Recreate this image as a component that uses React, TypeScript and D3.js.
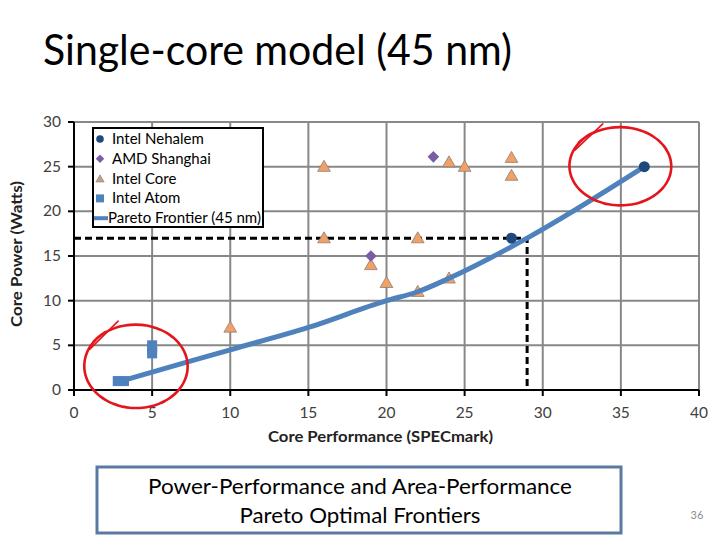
import React from 'react';
import * as d3 from 'd3';

// series values (x = SPECmark, y = Watts)
const nehalem = [
  { x: 28, y: 17 },
  { x: 36.5, y: 25 },
];
const shanghai = [
  { x: 23, y: 26.1 },
  { x: 19, y: 15 },
];
const intelCore = [
  { x: 16, y: 25 },
  { x: 16, y: 17 },
  { x: 24, y: 25.5 },
  { x: 25, y: 25 },
  { x: 28, y: 26 },
  { x: 28, y: 24 },
  { x: 22, y: 17 },
  { x: 19, y: 14 },
  { x: 20, y: 12 },
  { x: 22, y: 11 },
  { x: 24, y: 12.5 },
  { x: 10, y: 7 },
];
const atom = [
  { x: 5, y: 4.1 },
  { x: 5, y: 4.6 },
  { x: 5, y: 5 },
  { x: 2.8, y: 1 },
  { x: 3.2, y: 1 },
];
const pareto = [
  { x: 3, y: 1 },
  { x: 5, y: 2 },
  { x: 10, y: 4.5 },
  { x: 15, y: 7 },
  { x: 20, y: 10 },
  { x: 22, y: 11 },
  { x: 24, y: 12.5 },
  { x: 29, y: 17 },
  { x: 36.5, y: 25 },
];
// dashed guide to the chosen design point
const guide = { x: 29, y: 17 };
// hand-drawn red circles (data units)
const marks = [
  { cx: 4.0, cy: 2.6, rx: 3.4, ry: 4.8 },
  { cx: 35.0, cy: 25.0, rx: 3.35, ry: 4.5 },
];
const xTicks = [0, 5, 10, 15, 20, 25, 30, 35, 40];
const yTicks = [0, 5, 10, 15, 20, 25, 30];
const legendItems = ['Intel Nehalem', 'AMD Shanghai', 'Intel Core', 'Intel Atom', 'Pareto Frontier (45 nm)'];

const FONT = 'Lato, "Open Sans", sans-serif';
const BLUE = '#4f81bd';
const NAVY = '#1f497d';
const PURPLE = '#7a5ea5';
const ORANGE = '#f2a066';

const margin = { left: 74, top: 122, right: 21, bottom: 150 };
const W = 720;
const H = 540;

const App: React.FC = () => {
  const x = d3.scaleLinear().domain([0, 40]).range([margin.left, W - margin.right]);
  const y = d3.scaleLinear().domain([0, 30]).range([H - margin.bottom, margin.top]);

  const line = d3.line<{ x: number; y: number }>()
    .x(d => x(d.x))
    .y(d => y(d.y))
    .curve(d3.curveMonotoneX);

  const triangle = d3.symbol().type(d3.symbolTriangle).size(70)();
  const diamond = d3.symbol().type(d3.symbolSquare).size(68)();

  // open ellipse with a pen tail at the upper left
  const penCircle = (m: typeof marks[number]) => {
    const cx = x(m.cx), cy = y(m.cy);
    const rx = x(m.cx + m.rx) - cx, ry = y(m.cy) - y(m.cy + m.ry);
    const pt = (a: number, k: number): [number, number] => [cx + Math.cos(a) * rx * k, cy + Math.sin(a) * ry * k];
    const a0 = -Math.PI * 0.8;
    const pts: [number, number][] = [];
    for (let i = 0; i <= 64; i++) {
      const a = a0 + (i / 64) * Math.PI * 2.1;
      const k = 1.0 - 0.04 * Math.sin((i / 64) * Math.PI);
      pts.push(pt(a, k));
    }
    const ring = d3.line().curve(d3.curveCatmullRom)(pts) as string;
    const s = pt(-Math.PI * 0.6, 1.12);
    const e = pt(-Math.PI * 0.86, 0.97);
    return { ring, tail: `M${s[0]},${s[1]}L${e[0]},${e[1]}` };
  };

  const plotW = x(40) - x(0);

  return (
    <svg width={W} height={H} style={{ position: 'absolute', left: 0, top: 0, background: '#fff' }}>
      <text x={43} y={65} fontFamily={FONT} fontSize={42} fill="#000" textLength={469} lengthAdjust="spacingAndGlyphs">
        Single-core model (45 nm)
      </text>

      {/* gridlines */}
      <g stroke="#888" strokeWidth={2}>
        {yTicks.filter(t => t > 0).map(t => (
          <line key={'gy' + t} x1={x(0)} x2={x(40)} y1={y(t)} y2={y(t)} />
        ))}
        {xTicks.filter(t => t > 0).map(t => (
          <line key={'gx' + t} x1={x(t)} x2={x(t)} y1={y(0)} y2={y(30)} />
        ))}
      </g>

      {/* axes */}
      <g stroke="#000" strokeWidth={2}>
        <line x1={x(0)} x2={x(0)} y1={y(0) + 1} y2={y(30)} />
        <line x1={x(0) - 1} x2={x(40)} y1={y(0)} y2={y(0)} />
        {yTicks.map(t => (
          <line key={'ty' + t} x1={x(0) - 6} x2={x(0)} y1={y(t)} y2={y(t)} />
        ))}
        {xTicks.map(t => (
          <line key={'tx' + t} x1={x(t)} x2={x(t)} y1={y(0)} y2={y(0) + 6} />
        ))}
      </g>
      <g fontFamily={FONT} fontSize={15.5} fill="#404040">
        {yTicks.map(t => (
          <text key={'ly' + t} x={x(0) - 13} y={y(t) + 5} textAnchor="end">{t}</text>
        ))}
        {xTicks.map(t => (
          <text key={'lx' + t} x={x(t)} y={y(0) + 28} textAnchor="middle">{t}</text>
        ))}
      </g>
      <text x={x(0) + plotW / 2 - 6} y={442} fontFamily={FONT} fontSize={16} fontWeight="bold" textAnchor="middle" fill="#222" textLength={225} lengthAdjust="spacingAndGlyphs">
        Core Performance (SPECmark)
      </text>
      <text transform={`translate(22,${(y(0) + y(30)) / 2 - 2}) rotate(-90)`} fontFamily={FONT} fontSize={15} fontWeight="bold" textAnchor="middle" fill="#222" textLength={146} lengthAdjust="spacingAndGlyphs">
        Core Power (Watts)
      </text>

      {/* dashed guide */}
      <path
        d={`M${x(0)},${y(guide.y)}H${x(guide.x)}V${y(0)}`}
        fill="none" stroke="#000" strokeWidth={3} strokeDasharray="7,4"
      />

      {/* markers */}
      {intelCore.map((d, i) => (
        <path key={'c' + i} d={triangle} transform={`translate(${x(d.x)},${y(d.y) + 1})`} fill={ORANGE} stroke="#8a7f78" strokeWidth={0.8} />
      ))}
      {shanghai.map((d, i) => (
        <path key={'s' + i} d={diamond} transform={`translate(${x(d.x)},${y(d.y)}) rotate(45)`} fill={PURPLE} />
      ))}
      {atom.map((d, i) => (
        <rect key={'a' + i} x={x(d.x) - 5} y={y(d.y) - 5} width={10} height={10} fill={BLUE} />
      ))}
      <path d={line(pareto) as string} fill="none" stroke={BLUE} strokeWidth={5} />
      {nehalem.map((d, i) => (
        <circle key={'n' + i} cx={x(d.x)} cy={y(d.y)} r={5.5} fill={NAVY} />
      ))}

      {/* red annotations */}
      {marks.map((m, i) => {
        const p = penCircle(m);
        return (
          <g key={'m' + i} fill="none" stroke="#e3161d" strokeLinecap="round">
            <path d={p.ring} strokeWidth={2.6} />
            <path d={p.tail} strokeWidth={1.6} />
          </g>
        );
      })}

      {/* legend */}
      <g fontFamily={FONT} fontSize={15} fill="#000">
        <rect x={93} y={128} width={170} height={99} fill="#fff" stroke="#000" strokeWidth={2} />
        {legendItems.map((name, i) => {
          const cy = 139 + i * 19.8;
          return (
            <g key={name}>
              {i === 0 && <circle cx={100} cy={cy} r={3.8} fill={NAVY} />}
              {i === 1 && <rect x={-3} y={-3} width={6} height={6} transform={`translate(100,${cy}) rotate(45)`} fill={PURPLE} />}
              {i === 2 && <path d={d3.symbol().type(d3.symbolTriangle).size(30)() as string} transform={`translate(100,${cy + 1})`} fill="#c4a08a" stroke="#8a7f78" strokeWidth={0.6} />}
              {i === 3 && <rect x={96} y={cy - 4} width={8} height={8} fill={BLUE} />}
              {i === 4 && <line x1={94} x2={108} y1={cy} y2={cy} stroke={BLUE} strokeWidth={4} />}
              <text x={i === 4 ? 108 : 112} y={cy + 5} textLength={i === 4 ? 153 : undefined} lengthAdjust="spacingAndGlyphs">{name}</text>
            </g>
          );
        })}
      </g>

      {/* caption box */}
      <rect x={97} y={467} width={524} height={66} fill="#fff" stroke="#5a7aa4" strokeWidth={3} />
      <g fontFamily={FONT} fontSize={21.5} fill="#000" textAnchor="middle">
        <text x={360} y={494} textLength={424} lengthAdjust="spacingAndGlyphs">Power-Performance and Area-Performance</text>
        <text x={360} y={523} textLength={241} lengthAdjust="spacingAndGlyphs">Pareto Optimal Frontiers</text>
      </g>
      <text x={697} y={519} fontFamily={FONT} fontSize={11} fill="#8c8c8c" textAnchor="middle">36</text>
    </svg>
  );
};

export default App;
